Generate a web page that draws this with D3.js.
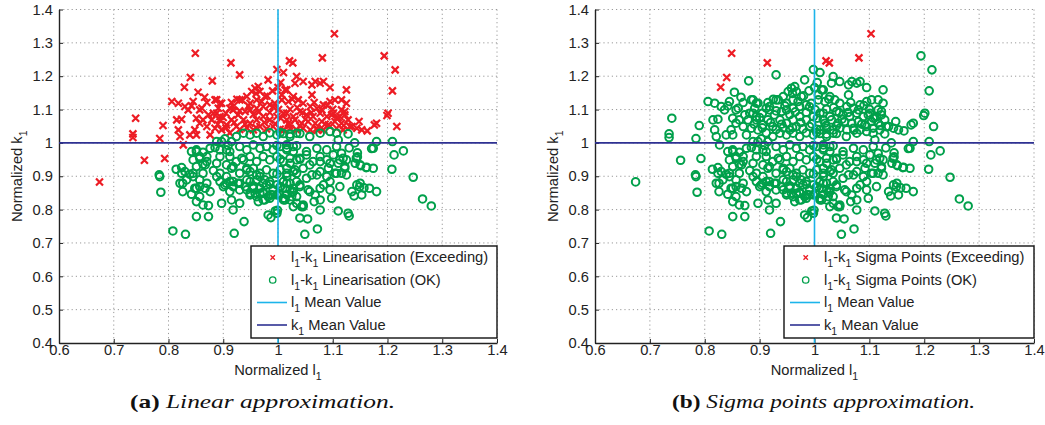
<!DOCTYPE html>
<html><head><meta charset="utf-8">
<script src="https://cdn.jsdelivr.net/npm/d3@7/dist/d3.min.js"></script>
<style>body{margin:0;background:#fff}svg{display:block}</style>
</head><body>
<svg id="c" width="1045" height="425"></svg>
<script>
const xTicks = [0.6,0.7,0.8,0.9,1.0,1.1,1.2,1.3,1.4];
const yTicks = [0.4,0.5,0.6,0.7,0.8,0.9,1.0,1.1,1.2,1.3,1.4];
const xTickLabels = ["0.6","0.7","0.8","0.9","1","1.1","1.2","1.3","1.4"];
const yTickLabels = ["0.4","0.5","0.6","0.7","0.8","0.9","1","1.1","1.2","1.3","1.4"];
const meanL = 1.0, meanK = 1.0;

// samples exceeding in both methods
const bothExceed = [[0.829,1.167],[0.840,1.196],[0.849,1.269],[0.914,1.240],[1.021,1.246],[1.027,1.240],[1.081,1.255],[1.103,1.327]];

// samples exceeding only with the linearisation
const linExceedOnly = [[0.674,0.883],[0.735,1.027],[0.735,1.016],[0.740,1.074],[0.756,0.948],[0.784,1.013],[0.790,1.052],[0.793,0.953],
[0.806,1.124],[0.818,1.119],[0.815,1.069],[0.824,1.071],[0.818,1.039],[0.821,1.019],[0.827,0.994],[0.839,1.024],[0.851,1.024],
[0.830,1.109],[0.842,1.111],[0.845,1.124],[0.836,1.099],[0.854,1.152],[0.861,1.104],[0.851,1.074],[0.857,1.059],[0.848,1.039],
[0.873,1.084],[0.879,1.069],[0.870,1.049],[0.888,1.089],[0.894,1.069],[0.885,1.044],[0.897,1.039],[0.876,1.024],[0.885,1.129],
[0.894,1.119],[0.891,1.104],[0.880,1.186],[0.930,1.204],[0.912,1.104],[0.918,1.099],[0.915,1.069],[0.927,1.084],[0.906,1.054],
[0.924,1.049],[0.912,1.030],[0.934,1.129],[0.943,1.139],[0.952,1.154],[0.958,1.164],[0.964,1.169],[0.967,1.154],[0.976,1.139],
[0.961,1.129],[0.949,1.119],[0.940,1.094],[0.949,1.099],[0.961,1.104],[0.973,1.109],[0.985,1.114],[0.994,1.119],[1.007,1.129],
[1.016,1.159],[0.937,1.069],[0.949,1.059],[0.961,1.069],[0.973,1.079],[0.985,1.069],[0.998,1.079],[1.010,1.089],[1.016,1.069],
[0.930,1.040],[0.943,1.045],[0.955,1.039],[0.967,1.049],[0.979,1.042],[0.991,1.049],[1.004,1.041],[0.982,1.189],[0.998,1.220],
[1.010,1.211],[1.194,1.261],[1.214,1.219],[1.209,1.156],[1.201,1.089],[1.199,1.082],[1.217,1.049],[1.180,1.059],[1.176,1.054],
[1.148,1.064],[1.153,1.039],[1.163,1.036],[1.125,1.159],[1.095,1.166],[1.083,1.184],[1.077,1.179],[1.068,1.184],[1.062,1.174],
[1.046,1.184],[1.034,1.199],[1.031,1.179],[1.013,1.159],[1.007,1.144],[1.062,1.144],[1.125,1.119],[1.116,1.129],[1.104,1.129],
[1.095,1.124],[1.083,1.114],[1.080,1.099],[1.071,1.104],[1.059,1.109],[1.046,1.119],[1.037,1.129],[1.028,1.139],[1.019,1.124],
[1.122,1.094],[1.113,1.079],[1.101,1.089],[1.089,1.079],[1.077,1.089],[1.064,1.079],[1.052,1.084],[1.040,1.094],[1.028,1.079],
[1.016,1.089],[1.128,1.069],[1.116,1.059],[1.104,1.064],[1.092,1.054],[1.080,1.064],[1.068,1.059],[1.055,1.064],[1.043,1.059],
[1.031,1.069],[1.019,1.059],[1.131,1.049],[1.119,1.039],[1.107,1.044],[1.095,1.049],[1.083,1.039],[1.071,1.044],[1.059,1.039],
[1.046,1.044],[1.034,1.039],[1.022,1.044],[1.010,1.039],[1.135,1.049],[1.144,1.044],[1.098,1.084],[1.107,1.074],[1.116,1.099],
[1.122,1.084],[0.955,1.085],[0.965,1.093],[0.975,1.061],[0.985,1.091],[0.991,1.108],[1.001,1.100],[1.005,1.074],[0.995,1.057],
[0.970,1.124],[0.980,1.141],[0.990,1.156],[1.000,1.166],[1.005,1.181],[0.960,1.148],[0.946,1.111],[0.925,1.131],[0.915,1.121],
[0.905,1.089],[0.900,1.076],[0.920,1.061],[0.930,1.096],[1.022,1.101],[1.026,1.131],[1.035,1.106],[1.045,1.091],[1.050,1.071],
[1.040,1.051],[1.021,1.052],[0.960,1.046],[0.940,1.056],[0.905,1.045],[0.890,1.056],[1.061,1.091],[1.066,1.121],[1.090,1.112],
[1.100,1.101],[1.110,1.076],[1.120,1.052],[1.086,1.056],[1.072,1.038],[0.918,1.109],[0.930,1.129],[0.888,1.129],[0.897,1.119],
[0.863,1.069],[0.870,1.121],[0.866,1.137],[0.857,1.099],[0.882,1.089],[0.894,1.079]];

// samples within limits in both methods
const okPts = [[0.783,0.904],[0.784,0.899],[0.786,0.852],[0.808,0.736],[0.831,0.726],[0.814,0.921],[0.824,0.926],[0.830,0.914],
[0.826,0.879],[0.839,0.906],[0.845,0.899],[0.842,0.974],[0.851,0.974],[0.845,0.949],[0.857,0.954],[0.863,0.936],[0.870,0.944],
[0.876,0.984],[0.885,0.986],[0.894,0.979],[0.909,0.992],[0.912,0.974],[0.851,0.824],[0.842,0.846],[0.857,0.839],[0.848,0.864],
[0.857,0.869],[0.867,0.864],[0.876,0.854],[0.863,0.814],[0.873,0.812],[0.851,0.779],[0.873,0.779],[0.897,0.819],[0.915,0.829],
[0.918,0.799],[0.930,0.819],[0.938,0.764],[0.920,0.729],[0.888,0.899],[0.894,0.884],[0.903,0.874],[0.912,0.884],[0.918,0.869],
[0.927,0.879],[0.930,0.859],[0.940,0.869],[0.949,0.849],[0.955,0.864],[0.906,0.934],[0.915,0.924],[0.924,0.944],[0.934,0.954],
[0.943,0.924],[0.949,0.914],[0.961,0.904],[0.967,0.899],[0.976,0.889],[0.985,0.876],[0.991,0.844],[0.964,0.824],[0.973,0.829],
[0.982,0.839],[0.995,0.796],[0.998,0.789],[0.982,0.784],[0.987,0.776],[0.999,0.798],[1.028,0.809],[1.034,0.819],[1.013,0.829],
[1.040,0.775],[0.824,0.909],[0.833,0.889],[0.821,0.879],[0.826,0.854],[0.851,0.979],[0.863,0.972],[0.857,0.959],[0.870,0.959],
[0.867,0.934],[0.851,0.929],[0.845,0.909],[0.863,0.909],[0.857,0.889],[0.870,0.879],[0.851,0.864],[0.882,0.917],[0.888,0.939],
[0.894,0.959],[0.906,0.979],[0.912,0.959],[0.918,0.929],[0.888,1.004],[0.897,1.004],[0.894,0.909],[0.906,0.899],[0.918,0.884],
[0.900,0.869],[0.912,0.854],[0.930,0.909],[0.943,0.889],[0.955,0.869],[0.967,0.849],[0.903,1.012],[0.915,1.004],
[0.924,1.019],[0.937,1.029],[0.949,1.024],[0.961,1.029],[0.973,1.019],[0.985,1.030],[0.998,1.024],[1.010,1.028],[1.022,1.019],
[1.034,1.029],[1.004,1.031],[1.022,1.026],[1.040,1.028],[1.058,1.019],[1.077,1.029],[1.095,1.034],[1.107,1.029],[1.128,1.027],
[1.110,1.009],[0.930,0.989],[0.943,0.979],[0.955,0.994],[0.967,0.984],[0.979,0.989],[0.991,0.979],[1.004,0.989],[1.016,0.984],
[1.028,0.989],[0.998,0.992],[1.016,0.979],[1.034,0.991],[1.052,0.974],[1.071,0.984],[1.089,0.979],[1.107,0.989],[1.116,0.969],
[1.140,1.000],[1.130,0.985],[1.145,0.970],[0.937,0.949],[0.949,0.959],[0.961,0.944],[0.973,0.959],[0.985,0.949],[0.998,0.959],
[1.010,0.944],[1.022,0.954],[1.034,0.949],[1.004,0.951],[1.022,0.939],[1.040,0.951],[1.058,0.934],[1.077,0.944],[1.095,0.939],
[1.113,0.949],[1.122,0.929],[1.016,0.994],[1.028,0.974],[1.040,0.954],[1.052,0.964],[1.064,0.944],[1.077,0.959],[1.089,0.949],
[1.101,0.964],[1.110,0.939],[1.119,0.954],[0.943,0.919],[0.955,0.924],[0.967,0.909],[0.979,0.919],[0.991,0.909],[1.004,0.919],
[1.016,0.909],[1.028,0.914],[0.998,0.907],[1.016,0.899],[1.034,0.909],[1.052,0.894],[1.071,0.904],[1.089,0.899],[1.107,0.909],
[1.125,0.904],[1.016,0.924],[1.031,0.919],[1.046,0.924],[1.062,0.904],[1.077,0.914],[1.092,0.924],[1.104,0.909],[0.949,0.884],
[0.961,0.889],[0.973,0.879],[0.985,0.884],[0.998,0.874],[1.010,0.884],[1.022,0.879],[1.034,0.884],[1.004,0.869],[1.022,0.859],
[1.040,0.869],[1.058,0.854],[1.077,0.864],[1.095,0.859],[1.113,0.869],[0.906,0.879],[0.918,0.871],[0.930,0.879],[0.943,0.859],
[0.955,0.871],[0.967,0.864],[0.979,0.874],[0.991,0.859],[1.004,0.867],[1.016,0.879],[1.028,0.864],[1.040,0.874],[1.013,0.864],
[1.028,0.854],[1.055,0.859],[1.068,0.844],[1.083,0.874],[1.095,0.884],[0.958,0.849],[0.973,0.852],[0.987,0.845],[1.001,0.848],
[1.016,0.845],[1.027,0.852],[0.949,0.844],[0.961,0.839],[0.973,0.849],[0.976,0.829],[0.985,0.834],[0.998,0.844],[1.010,0.834],
[1.022,0.829],[1.034,0.839],[1.077,0.829],[1.010,0.829],[1.025,0.839],[1.046,0.814],[1.043,0.809],[1.180,1.004],[1.174,0.984],
[1.171,0.983],[1.209,1.004],[1.212,0.964],[1.229,0.976],[1.208,0.921],[1.247,0.897],[1.264,0.832],[1.280,0.811],[1.180,0.854],
[1.167,0.864],[1.153,0.844],[1.150,0.879],[1.144,0.874],[1.135,0.854],[1.139,0.841],[1.128,0.789],[1.130,0.781],[1.110,0.796],
[1.098,0.834],[1.077,0.799],[1.072,0.742],[1.054,0.772],[1.049,0.726],[1.046,0.809],[1.066,0.824],[1.143,0.954],[1.150,0.934],
[1.161,0.926],[1.174,0.924],[1.125,0.949],[1.122,0.924],[1.116,0.909],[1.145,0.958],[1.141,0.939],[1.151,0.932],[1.162,0.927],
[1.157,0.865],[1.149,0.868]];

const legendA = ["Linearisation (Exceeding)","Linearisation (OK)"];
const legendB = ["Sigma Points (Exceeding)","Sigma Points (OK)"];
const captions = [["(a)","Linear approximation."],["(b)","Sigma points approximation."]];

const RED = "#ed1c24", GREEN = "#00a04b", CYAN = "#1cb4ea", NAVY = "#2e3192";
const FONT = "'Liberation Sans', Arial, Helvetica, sans-serif";
const FS = 14.7;
const svg = d3.select("#c");

const panels = [
  {left:59, right:497, top:9.5, bottom:343, ylabX:22, legX:251, legW:246, names:legendA,
   red: bothExceed.concat(linExceedOnly), green: okPts, cap: captions[0], capX:130, capW:265},
  {left:595, right:1034, top:9.5, bottom:343, ylabX:558, legX:784, legW:250, names:legendB,
   red: bothExceed, green: linExceedOnly.concat(okPts), cap: captions[1], capX:672, capW:303}
];

function subText(sel, parts, size){
  let sub=false;
  parts.forEach(p=>{
    const isSub = p[1];
    const t = sel.append("tspan").text(p[0]);
    if(isSub && !sub){ t.attr("dy", size*0.32).attr("font-size", size*0.72); }
    else if(isSub){ t.attr("font-size", size*0.72); }
    else if(!isSub && sub){ t.attr("dy", -size*0.32); }
    sub = isSub;
  });
}

function cross(g, cx, cy, s, w){
  g.append("path").attr("d",`M${cx-s},${cy-s}L${cx+s},${cy+s}M${cx-s},${cy+s}L${cx+s},${cy-s}`)
   .attr("stroke",RED).attr("stroke-width",w).attr("fill","none");
}

panels.forEach(P=>{
  const x = d3.scaleLinear().domain([0.6,1.4]).range([P.left,P.right]);
  const y = d3.scaleLinear().domain([0.4,1.4]).range([P.bottom,P.top]);
  const g = svg.append("g");

  // grid
  g.append("g").selectAll("line").data(xTicks.slice(1)).join("line")
    .attr("x1",d=>x(d)).attr("x2",d=>x(d)).attr("y1",P.top).attr("y2",P.bottom)
    .attr("stroke","#999").attr("stroke-width",1).attr("stroke-dasharray","1.2,3");
  g.append("g").selectAll("line").data(yTicks.slice(1)).join("line")
    .attr("y1",d=>y(d)).attr("y2",d=>y(d)).attr("x1",P.left).attr("x2",P.right)
    .attr("stroke","#999").attr("stroke-width",1).attr("stroke-dasharray","1.2,3");

  // axes
  const xa = g.append("g").attr("transform",`translate(0,${P.bottom})`)
    .call(d3.axisBottom(x).tickValues(xTicks).tickFormat((d,i)=>xTickLabels[i]).tickSizeInner(-4).tickSizeOuter(0).tickPadding(2));
  const ya = g.append("g").attr("transform",`translate(${P.left},0)`)
    .call(d3.axisLeft(y).tickValues(yTicks).tickFormat((d,i)=>yTickLabels[i]).tickSizeInner(-4).tickSizeOuter(0).tickPadding(6));
  [xa,ya].forEach(a=>{
    a.select(".domain").attr("stroke","#222").attr("stroke-width",1.4);
    a.selectAll(".tick line").attr("stroke","#222").attr("stroke-width",1);
    a.selectAll("text").attr("font-family",FONT).attr("font-size",FS).attr("fill","#222");
  });

  // points
  const pts = g.append("g");
  P.red.forEach(d=>cross(pts, x(d[0]), y(d[1]), 3.5, 2.2));
  pts.selectAll("circle").data(P.green).join("circle")
    .attr("cx",d=>x(d[0])).attr("cy",d=>y(d[1])).attr("r",3.8)
    .attr("fill","none").attr("stroke",GREEN).attr("stroke-width",2);

  // mean lines
  g.append("line").attr("x1",x(meanL)).attr("x2",x(meanL)).attr("y1",P.top).attr("y2",P.bottom)
    .attr("stroke",CYAN).attr("stroke-width",1.6);
  g.append("line").attr("x1",P.left).attr("x2",P.right).attr("y1",y(meanK)).attr("y2",y(meanK))
    .attr("stroke",NAVY).attr("stroke-width",1.6);

  // axis labels
  const xl = g.append("text").attr("x",(P.left+P.right)/2).attr("y",375).attr("text-anchor","middle")
    .attr("font-family",FONT).attr("font-size",FS).attr("fill","#222");
  subText(xl, [["Normalized l",false],["1",true]], FS);
  const yl = g.append("text").attr("transform",`translate(${P.ylabX},${(P.top+P.bottom)/2}) rotate(-90)`)
    .attr("text-anchor","middle").attr("font-family",FONT).attr("font-size",FS).attr("fill","#222");
  subText(yl, [["Normalized k",false],["1",true]], FS);

  // legend
  const L = g.append("g");
  const ly = 246, lh = 92;
  L.append("rect").attr("x",P.legX).attr("y",ly).attr("width",P.legW).attr("height",lh)
    .attr("fill","#fff").attr("stroke","#111").attr("stroke-width",1.4);
  const rows = [257.5, 280, 302.5, 325];
  const mx = P.legX + 21.7;
  cross(L, mx, rows[0], 2.2, 1.3);
  L.append("circle").attr("cx",mx).attr("cy",rows[1]).attr("r",3.2).attr("fill","none").attr("stroke",GREEN).attr("stroke-width",1.3);
  L.append("line").attr("x1",P.legX+6).attr("x2",P.legX+36).attr("y1",rows[2]).attr("y2",rows[2]).attr("stroke",CYAN).attr("stroke-width",1.6);
  L.append("line").attr("x1",P.legX+6).attr("x2",P.legX+36).attr("y1",rows[3]).attr("y2",rows[3]).attr("stroke",NAVY).attr("stroke-width",1.6);
  const labels = [
    [["l",false],["1",true],["-k",false],["1",true],[" "+P.names[0],false]],
    [["l",false],["1",true],["-k",false],["1",true],[" "+P.names[1],false]],
    [["l",false],["1",true],[" Mean Value",false]],
    [["k",false],["1",true],[" Mean Value",false]]
  ];
  labels.forEach((parts,i)=>{
    const t = L.append("text").attr("x",P.legX+40).attr("y",rows[i]+4.8)
      .attr("font-family",FONT).attr("font-size",FS).attr("fill","#222");
    subText(t, parts, FS);
  });

  // caption
  const c = svg.append("text").attr("x",P.capX).attr("y",408)
    .attr("textLength",P.capW).attr("lengthAdjust","spacingAndGlyphs")
    .attr("font-family","'Liberation Serif','Times New Roman',serif").attr("font-size",19).attr("fill","#111");
  c.append("tspan").attr("font-weight","bold").text(P.cap[0]);
  c.append("tspan").attr("font-style","italic").text(" "+P.cap[1]);
});
</script>
</body></html>
